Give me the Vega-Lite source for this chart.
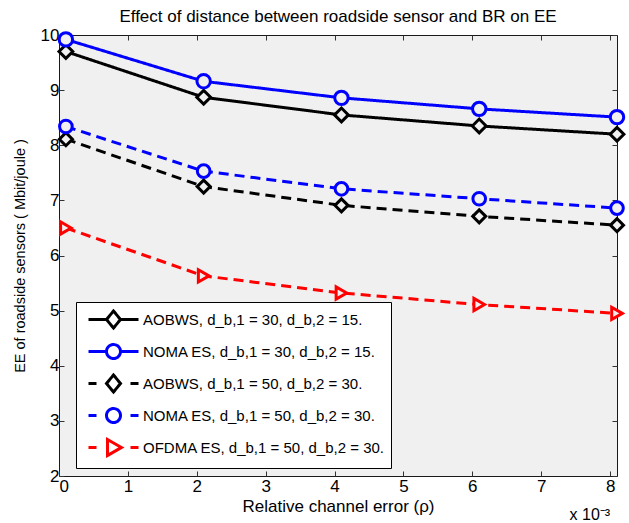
{
  "$schema": "https://vega.github.io/schema/vega-lite/v6.json",
  "width": 558,
  "height": 441,
  "autosize": "none",
  "padding": {"left": 59, "top": 35, "right": 12, "bottom": 47},
  "background": "white",
  "title": {
    "text": "Effect of distance between roadside sensor and BR on EE",
    "fontSize": 17,
    "fontWeight": "normal",
    "font": "Liberation Sans",
    "color": "black",
    "anchor": "middle",
    "offset": 0
  },
  "config": {
    "view": {"fill": "#f0f0f0", "stroke": "#1a1a1a", "strokeWidth": 1},
    "font": "Liberation Sans",
    "axis": {
      "labelFont": "Liberation Sans",
      "labelFontSize": 17,
      "labelColor": "black",
      "titleFont": "Liberation Sans",
      "titleFontSize": 17,
      "titleFontWeight": "normal",
      "titleColor": "black",
      "tickColor": "#333333",
      "tickSize": -5,
      "tickWidth": 1,
      "domain": false,
      "grid": false,
      "labelPadding": 5
    }
  },
  "datasets": {
    "pts": [
      {"series": "AOBWS, d_b,1 = 30, d_b,2 = 15.", "key": "a", "rho": 0.1, "ee": 9.70},
      {"series": "AOBWS, d_b,1 = 30, d_b,2 = 15.", "key": "a", "rho": 2.1, "ee": 8.87},
      {"series": "AOBWS, d_b,1 = 30, d_b,2 = 15.", "key": "a", "rho": 4.1, "ee": 8.55},
      {"series": "AOBWS, d_b,1 = 30, d_b,2 = 15.", "key": "a", "rho": 6.1, "ee": 8.35},
      {"series": "AOBWS, d_b,1 = 30, d_b,2 = 15.", "key": "a", "rho": 8.1, "ee": 8.20},
      {"series": "NOMA ES, d_b,1 = 30, d_b,2 = 15.", "key": "b", "rho": 0.1, "ee": 9.92},
      {"series": "NOMA ES, d_b,1 = 30, d_b,2 = 15.", "key": "b", "rho": 2.1, "ee": 9.16},
      {"series": "NOMA ES, d_b,1 = 30, d_b,2 = 15.", "key": "b", "rho": 4.1, "ee": 8.86},
      {"series": "NOMA ES, d_b,1 = 30, d_b,2 = 15.", "key": "b", "rho": 6.1, "ee": 8.66},
      {"series": "NOMA ES, d_b,1 = 30, d_b,2 = 15.", "key": "b", "rho": 8.1, "ee": 8.51},
      {"series": "AOBWS, d_b,1 = 50, d_b,2 = 30.", "key": "c", "rho": 0.1, "ee": 8.11},
      {"series": "AOBWS, d_b,1 = 50, d_b,2 = 30.", "key": "c", "rho": 2.1, "ee": 7.25},
      {"series": "AOBWS, d_b,1 = 50, d_b,2 = 30.", "key": "c", "rho": 4.1, "ee": 6.91},
      {"series": "AOBWS, d_b,1 = 50, d_b,2 = 30.", "key": "c", "rho": 6.1, "ee": 6.71},
      {"series": "AOBWS, d_b,1 = 50, d_b,2 = 30.", "key": "c", "rho": 8.1, "ee": 6.55},
      {"series": "NOMA ES, d_b,1 = 50, d_b,2 = 30.", "key": "d", "rho": 0.1, "ee": 8.34},
      {"series": "NOMA ES, d_b,1 = 50, d_b,2 = 30.", "key": "d", "rho": 2.1, "ee": 7.53},
      {"series": "NOMA ES, d_b,1 = 50, d_b,2 = 30.", "key": "d", "rho": 4.1, "ee": 7.21},
      {"series": "NOMA ES, d_b,1 = 50, d_b,2 = 30.", "key": "d", "rho": 6.1, "ee": 7.03},
      {"series": "NOMA ES, d_b,1 = 50, d_b,2 = 30.", "key": "d", "rho": 8.1, "ee": 6.86},
      {"series": "OFDMA ES, d_b,1 = 50, d_b,2 = 30.", "key": "e", "rho": 0.1, "ee": 6.50},
      {"series": "OFDMA ES, d_b,1 = 50, d_b,2 = 30.", "key": "e", "rho": 2.1, "ee": 5.63},
      {"series": "OFDMA ES, d_b,1 = 50, d_b,2 = 30.", "key": "e", "rho": 4.1, "ee": 5.32},
      {"series": "OFDMA ES, d_b,1 = 50, d_b,2 = 30.", "key": "e", "rho": 6.1, "ee": 5.11},
      {"series": "OFDMA ES, d_b,1 = 50, d_b,2 = 30.", "key": "e", "rho": 8.1, "ee": 4.95}
    ]
  },
  "layer": [
    {
      "data": {"name": "pts"},
      "mark": {"type": "line", "strokeWidth": 3},
      "encoding": {
        "x": {
          "field": "rho", "type": "quantitative",
          "scale": {"domain": [0, 8.1], "nice": false, "zero": false},
          "axis": {"orient": "bottom", "values": [0, 1, 2, 3, 4, 5, 6, 7, 8], "title": "Relative channel error (ρ)", "labelPadding": 7, "titlePadding": 4}
        },
        "y": {
          "field": "ee", "type": "quantitative",
          "scale": {"domain": [2, 10], "nice": false, "zero": false},
          "axis": {"orient": "left", "values": [2, 3, 4, 5, 6, 7, 8, 9, 10], "title": "EE of roadside sensors ( Mbit/joule )", "titleFontSize": 14.5, "titlePadding": 13}
        },
        "color": {
          "field": "key", "type": "nominal",
          "scale": {"domain": ["a", "b", "c", "d", "e"], "range": ["#000000", "#0000ff", "#000000", "#0000ff", "#ff0000"]},
          "legend": null
        },
        "strokeDash": {
          "field": "key", "type": "nominal",
          "scale": {"domain": ["a", "b", "c", "d", "e"], "range": [[1, 0], [1, 0], [10, 6], [10, 6], [10, 6]]},
          "legend": null
        }
      }
    },
    {
      "data": {"name": "pts"},
      "mark": {"type": "point", "fill": "#f0f0f0", "strokeWidth": 3, "opacity": 1},
      "encoding": {
        "x": {
          "field": "rho", "type": "quantitative",
          "scale": {"domain": [0, 8.1], "nice": false, "zero": false},
          "axis": {"orient": "top", "values": [0, 1, 2, 3, 4, 5, 6, 7, 8], "labels": false, "title": null}
        },
        "y": {
          "field": "ee", "type": "quantitative",
          "scale": {"domain": [2, 10], "nice": false, "zero": false},
          "axis": {"orient": "right", "values": [2, 3, 4, 5, 6, 7, 8, 9, 10], "labels": false, "title": null}
        },
        "stroke": {
          "field": "series", "type": "nominal",
          "scale": {
            "domain": ["AOBWS, d_b,1 = 30, d_b,2 = 15.", "NOMA ES, d_b,1 = 30, d_b,2 = 15.", "AOBWS, d_b,1 = 50, d_b,2 = 30.", "NOMA ES, d_b,1 = 50, d_b,2 = 30.", "OFDMA ES, d_b,1 = 50, d_b,2 = 30."],
            "range": ["#000000", "#0000ff", "#000000", "#0000ff", "#ff0000"]
          },
          "legend": {
            "orient": "none",
            "legendX": 17,
            "legendY": 267,
            "title": null,
            "fillColor": "white",
            "strokeColor": "black",
            "padding": 6,
            "symbolSize": 400,
            "symbolStrokeWidth": 3,
            "symbolOffset": 20,
            "labelOffset": 18,
            "labelFontSize": 15,
            "labelFont": "Liberation Sans",
            "labelColor": "black",
            "labelLimit": 400,
            "rowPadding": 4,
            "encoding": {
              "symbols": {
                "shape": {"value": {"expr": "['M-2.5,0H-0.7M0.7,0H2.5M0,-0.85L0.7,0L0,0.85L-0.7,0Z','M-2.5,0H-0.7M0.7,0H2.5M0.7,0A0.7,0.7,0,1,1,-0.7,0A0.7,0.7,0,1,1,0.7,0Z','M-2.5,0H-1.7M1.7,0H2.5M0,-0.85L0.7,0L0,0.85L-0.7,0Z','M-2.5,0H-1.7M1.7,0H2.5M0.7,0A0.7,0.7,0,1,1,-0.7,0A0.7,0.7,0,1,1,0.7,0Z','M-2.5,0H-1.7M1.7,0H2.5M-0.6,-0.8L0.8,0L-0.6,0.8Z'][indexof(['AOBWS, d_b,1 = 30, d_b,2 = 15.','NOMA ES, d_b,1 = 30, d_b,2 = 15.','AOBWS, d_b,1 = 50, d_b,2 = 30.','NOMA ES, d_b,1 = 50, d_b,2 = 30.','OFDMA ES, d_b,1 = 50, d_b,2 = 30.'], datum.value)]"}},
                "fill": {"value": "white"},
                "fillOpacity": {"value": 1},
                "size": {"value": 400},
                "strokeDash": {"value": [1, 0]}
              }
            }
          }
        },
        "shape": {
          "field": "key", "type": "nominal",
          "scale": {"domain": ["a", "b", "c", "d", "e"], "range": ["diamond", "circle", "diamond", "circle", "triangle-right"]},
          "legend": null
        },
        "size": {
          "field": "key", "type": "nominal",
          "scale": {"domain": ["a", "b", "c", "d", "e"], "range": [190, 150, 190, 150, 200]},
          "legend": null
        }
      }
    },
    {
      "data": {"values": [{"label": "x 10⁻³"}]},
      "mark": {"type": "text", "align": "right", "baseline": "alphabetic", "fontSize": 16, "font": "Liberation Sans", "color": "black"},
      "encoding": {
        "x": {"datum": 8.0, "type": "quantitative", "scale": {"domain": [0, 8.1], "nice": false, "zero": false}, "axis": null},
        "y": {"datum": 1.2, "type": "quantitative", "scale": {"domain": [2, 10], "nice": false, "zero": false}, "axis": null},
        "text": {"field": "label"}
      }
    }
  ],
  "resolve": {"axis": {"x": "independent", "y": "independent"}}
}
